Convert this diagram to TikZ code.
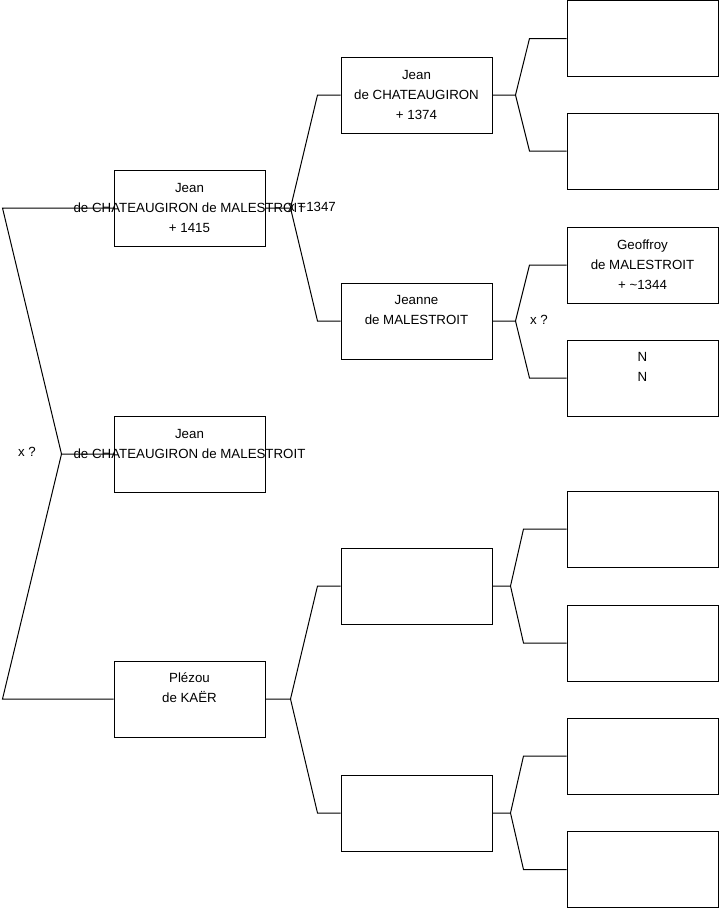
\documentclass[tikz,border=0pt]{standalone}
\usepackage{fontspec}
\setmainfont{Liberation Sans}
\tikzset{
  person/.style={draw, minimum width=151pt, minimum height=76pt, inner sep=0pt},
  who/.style={align=center, font=\fontsize{13.3}{20}\selectfont, inner sep=0pt},
  note/.style={font=\fontsize{13.3}{16}\selectfont, inner sep=0pt},
}

\begin{document}
\begin{tikzpicture}[x=1pt,y=-1pt,line width=1pt]
  \useasboundingbox (0,0) rectangle (719,908);
  % generation 1
  \node[person] (a1) at (189.5,208) {};
  \node[person] (a2) at (189.5,454) {};
  \node[person] (a3) at (189.5,699) {};
  % generation 2
  \node[person] (b1) at (416.5,95) {};
  \node[person] (b2) at (416.5,321) {};
  \node[person] (b3) at (416.5,586) {};
  \node[person] (b4) at (416.5,813) {};
  % generation 3
  \node[person] (c1) at (642.5,38.5) {};
  \node[person] (c2) at (642.5,151) {};
  \node[person] (c3) at (642.5,265) {};
  \node[person] (c4) at (642.5,378) {};
  \node[person] (c5) at (642.5,529) {};
  \node[person] (c6) at (642.5,643) {};
  \node[person] (c7) at (642.5,756) {};
  \node[person] (c8) at (642.5,869.5) {};

  % forks
  \draw (a2.west) -- ++(-52,0) coordinate (k0) -- ([xshift=-111pt]a1.west) -- (a1.west);
  \draw (k0) -- ([xshift=-111pt]a3.west) -- (a3.west);
  \draw (a1.east) -- ++(25,0) coordinate (k1) -- ([xshift=-23pt]b1.west) -- (b1.west);
  \draw (k1) -- ([xshift=-23pt]b2.west) -- (b2.west);
  \draw (a3.east) -- ++(25,0) coordinate (k2) -- ([xshift=-23pt]b3.west) -- (b3.west);
  \draw (k2) -- ([xshift=-23pt]b4.west) -- (b4.west);
  \draw (b1.east) -- ++(23,0) coordinate (k3) -- ([xshift=-37pt]c1.west) -- (c1.west);
  \draw (k3) -- ([xshift=-37pt]c2.west) -- (c2.west);
  \draw (b2.east) -- ++(23,0) coordinate (k4) -- ([xshift=-37pt]c3.west) -- (c3.west);
  \draw (k4) -- ([xshift=-37pt]c4.west) -- (c4.west);
  \draw (b3.east) -- ++(18,0) coordinate (k5) -- ([xshift=-43pt]c5.west) -- (c5.west);
  \draw (k5) -- ([xshift=-43pt]c6.west) -- (c6.west);
  \draw (b4.east) -- ++(18,0) coordinate (k6) -- ([xshift=-43pt]c7.west) -- (c7.west);
  \draw (k6) -- ([xshift=-43pt]c8.west) -- (c8.west);

  % names
  \node[who] (a1t) at (189.5,207.5) {Jean\\de CHATEAUGIRON de MALESTROIT\\+ 1415};
  \node[who] (a2t) at (189.5,444) {Jean\\de CHATEAUGIRON de MALESTROIT};
  \node[who] (a3t) at (189.5,688) {Plézou\\de KAËR};
  \node[who] (b1t) at (416.5,94.5) {Jean\\de CHATEAUGIRON\\+ 1374};
  \node[who] (b2t) at (416.5,310) {Jeanne\\de MALESTROIT};
  \node[who] (c3t) at (642.5,264.5) {Geoffroy\\de MALESTROIT\\+ \textasciitilde1344};
  \node[who] (c4t) at (642.5,367) {N\\N};

  % unions
  \node[note] (u0) at (27,452) {x ?};
  \node[note] (u1) at (312,207) {x \textasciitilde1347};
  \node[note] (u2) at (539,320) {x ?};
\end{tikzpicture}
\end{document}
